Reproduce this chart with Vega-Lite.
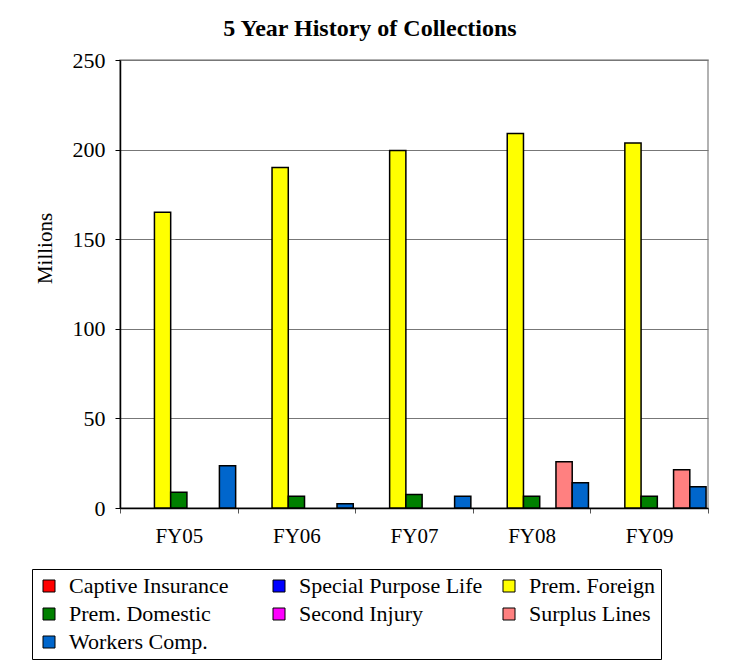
{
  "$schema": "https://vega.github.io/schema/vega-lite/v6.json",
  "width": 588,
  "height": 448,
  "autosize": {"type": "none"},
  "padding": {"left": 120, "top": 60, "right": 23, "bottom": 157},
  "background": "white",
  "title": {
    "text": "5 Year History of Collections",
    "font": "Liberation Serif",
    "fontSize": 24,
    "fontWeight": "bold",
    "color": "black",
    "anchor": "middle",
    "dx": -44,
    "offset": 8
  },
  "data": {
    "values": [
      {"year": "FY05", "series": "Prem. Foreign", "value": 165},
      {"year": "FY05", "series": "Prem. Domestic", "value": 8.8},
      {"year": "FY05", "series": "Workers Comp.", "value": 23.6},
      {"year": "FY06", "series": "Prem. Foreign", "value": 190},
      {"year": "FY06", "series": "Prem. Domestic", "value": 6.5},
      {"year": "FY06", "series": "Workers Comp.", "value": 2.4},
      {"year": "FY07", "series": "Prem. Foreign", "value": 199.5},
      {"year": "FY07", "series": "Prem. Domestic", "value": 7.6},
      {"year": "FY07", "series": "Workers Comp.", "value": 6.5},
      {"year": "FY08", "series": "Prem. Foreign", "value": 209},
      {"year": "FY08", "series": "Prem. Domestic", "value": 6.5},
      {"year": "FY08", "series": "Surplus Lines", "value": 25.8},
      {"year": "FY08", "series": "Workers Comp.", "value": 14.1},
      {"year": "FY09", "series": "Prem. Foreign", "value": 203.7},
      {"year": "FY09", "series": "Prem. Domestic", "value": 6.5},
      {"year": "FY09", "series": "Surplus Lines", "value": 21.4},
      {"year": "FY09", "series": "Workers Comp.", "value": 11.9}
    ]
  },
  "mark": {"type": "bar", "stroke": "black", "strokeWidth": 1.5},
  "encoding": {
    "x": {
      "field": "year",
      "type": "nominal",
      "sort": ["FY05", "FY06", "FY07", "FY08", "FY09"],
      "scale": {"paddingInner": 0, "paddingOuter": 0},
      "axis": {
        "title": null,
        "labelAngle": 0,
        "labelFont": "Liberation Serif",
        "labelFontSize": 21,
        "labelColor": "black",
        "labelPadding": 12,
        "domainColor": "black",
        "domainWidth": 1.5,
        "tickColor": "#555",
        "tickSize": 5,
        "tickBand": "extent"
      }
    },
    "xOffset": {
      "field": "series",
      "type": "nominal",
      "scale": {
        "domain": ["Captive Insurance", "Special Purpose Life", "Prem. Foreign", "Prem. Domestic", "Second Injury", "Surplus Lines", "Workers Comp."],
        "paddingInner": 0,
        "paddingOuter": 0.12
      }
    },
    "y": {
      "field": "value",
      "type": "quantitative",
      "scale": {"domain": [0, 250], "nice": false},
      "axis": {
        "title": "Millions",
        "values": [0, 50, 100, 150, 200, 250],
        "titleFont": "Liberation Serif",
        "titleFontSize": 21,
        "titleFontWeight": "normal",
        "titleColor": "black",
        "titleAngle": 270,
        "titleX": -75,
        "titleY": 188,
        "titleAlign": "center",
        "titleBaseline": "middle",
        "labelFont": "Liberation Serif",
        "labelFontSize": 22,
        "labelColor": "black",
        "labelPadding": 10,
        "domainColor": "black",
        "domainWidth": 1.5,
        "tickColor": "black",
        "tickSize": 5,
        "grid": true,
        "gridColor": "#777",
        "gridWidth": 1
      }
    },
    "color": {
      "field": "series",
      "type": "nominal",
      "scale": {
        "domain": ["Captive Insurance", "Special Purpose Life", "Prem. Foreign", "Prem. Domestic", "Second Injury", "Surplus Lines", "Workers Comp."],
        "range": ["#FF0000", "#0000FF", "#FFFF00", "#008000", "#FF00FF", "#FF8080", "#0066CC"]
      },
      "legend": {
        "title": null,
        "orient": "none",
        "legendX": -88,
        "legendY": 509,
        "direction": "horizontal",
        "columns": 3,
        "gridAlign": "all",
        "columnPadding": 15,
        "rowPadding": 6,
        "padding": 6,
        "strokeColor": "black",
        "fillColor": "white",
        "symbolType": "square",
        "symbolSize": 144,
        "symbolStrokeColor": "black",
        "symbolStrokeWidth": 1,
        "symbolOpacity": 1,
        "labelFont": "Liberation Serif",
        "labelFontSize": 22,
        "labelColor": "black",
        "labelOffset": 9,
        "labelLimit": 400
      }
    }
  },
  "config": {
    "view": {"stroke": "#999", "strokeWidth": 1.5},
    "font": "Liberation Serif",
    "legend": {"labelFont": "Liberation Serif", "labelFontSize": 22}
  }
}
